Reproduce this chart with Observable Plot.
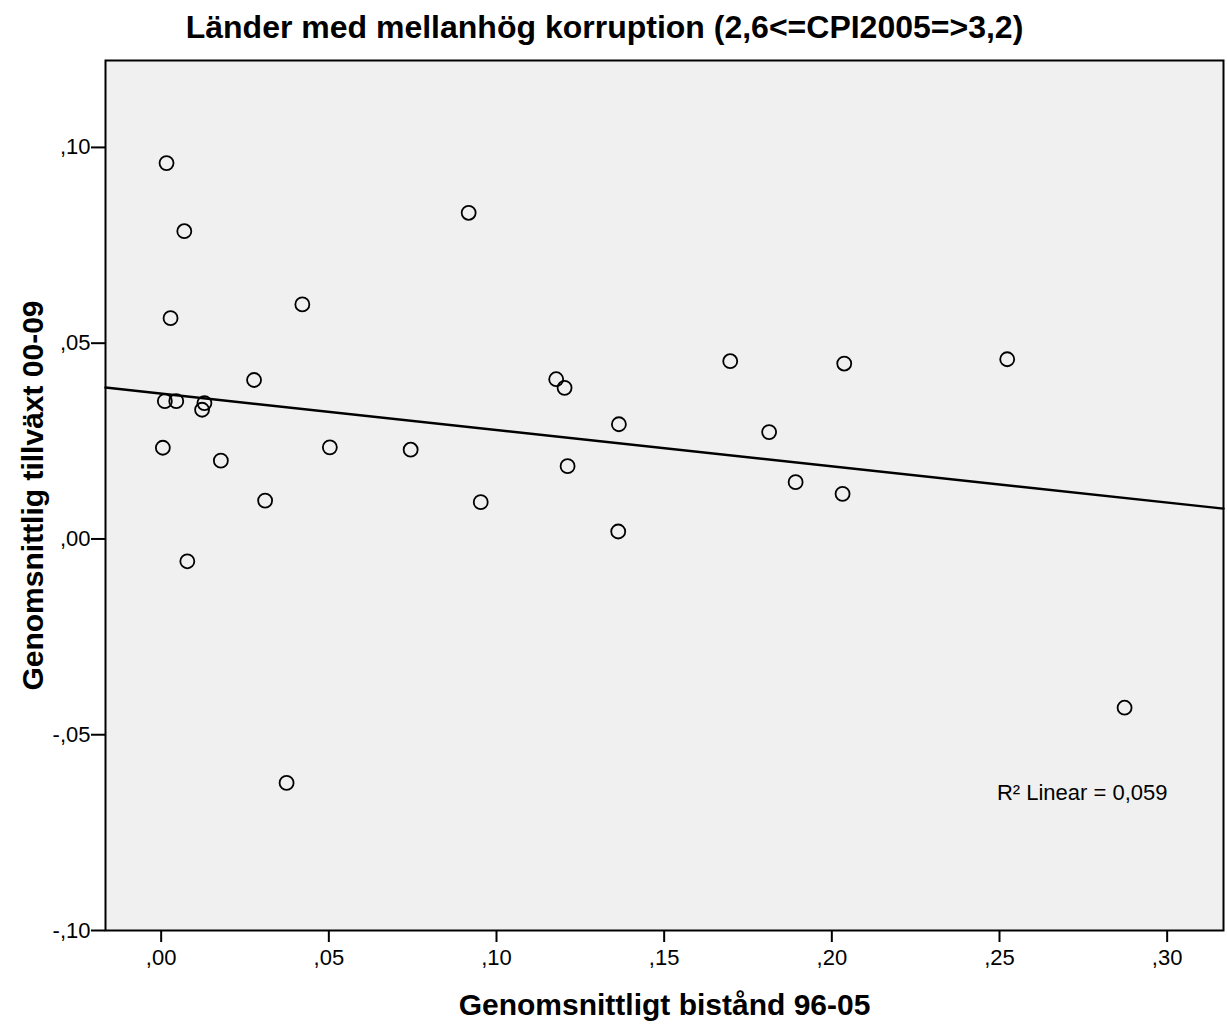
<!DOCTYPE html>
<html>
<head>
<meta charset="utf-8">
<script src="https://cdn.jsdelivr.net/npm/d3@7"></script>
<script src="https://cdn.jsdelivr.net/npm/@observablehq/plot@0.6"></script>
<style>
  html, body { margin: 0; padding: 0; background: white; }
</style>
</head>
<body>
<div id="chart"></div>
<script>
// Genomsnittligt bistånd 96-05 (x) och Genomsnittlig tillväxt 00-09 (y)
const aid = [0.0016, 0.0069, 0.0028, 0.0421, 0.0917, 0.0277, 0.0011, 0.0045, 0.0129, 0.0122,
             0.0005, 0.0178, 0.0310, 0.0078, 0.0374, 0.0503, 0.0744, 0.0953, 0.1178, 0.1203,
             0.1212, 0.1365, 0.1363, 0.1697, 0.1813, 0.1892, 0.2037, 0.2032, 0.2523, 0.2873];
const growth = [0.0960, 0.0786, 0.0564, 0.0599, 0.0833, 0.0406, 0.0352, 0.0352, 0.0347, 0.0330,
                0.0233, 0.0200, 0.0098, -0.0057, -0.0623, 0.0234, 0.0228, 0.0094, 0.0408, 0.0386,
                0.0186, 0.0293, 0.0019, 0.0454, 0.0273, 0.0145, 0.0448, 0.0115, 0.0459, -0.0431];
const xTicks = [0, 0.05, 0.10, 0.15, 0.20, 0.25, 0.30];
const yTicks = [-0.10, -0.05, 0, 0.05, 0.10];
const xDomain = [-0.0166, 0.3168];
const yDomain = [-0.10, 0.1222];
const titleText = "Länder med mellanhög korruption (2,6<=CPI2005=>3,2)";
const xLabel = "Genomsnittligt bistånd 96-05";
const yLabel = "Genomsnittlig tillväxt 00-09";
const r2Label = "R\u00B2 Linear = 0,059";

const data = aid.map((x, i) => ({x, y: growth[i]}));

// least-squares fit
const mx = d3.mean(aid), my = d3.mean(growth);
const sxy = d3.sum(data, d => (d.x - mx) * (d.y - my));
const sxx = d3.sum(data, d => (d.x - mx) ** 2);
const slope = sxy / sxx, intercept = my - slope * mx;
const fitLine = xDomain.map(x => ({x, y: intercept + slope * x}));

const fmt = v => {
  const s = d3.format(".2f")(Math.abs(v) < 1e-9 ? 0 : v).replace("\u2212", "-");
  return s.replace("0.", ".").replace(".", ",");
};

const font = "'Liberation Sans', Arial, Helvetica, sans-serif";

const chart = Plot.plot({
  width: 1227,
  height: 1028,
  marginLeft: 105,
  marginRight: 4,
  marginTop: 60,
  marginBottom: 98,
  style: {fontFamily: font, fontSize: "22px", background: "white", color: "black", overflow: "visible"},
  x: {domain: xDomain},
  y: {domain: yDomain},
  marks: [
    Plot.frame({fill: "#f0f0f0", stroke: null}),
    Plot.axisX({ticks: xTicks, tickFormat: fmt, tickSize: 12, tickPadding: 7, strokeWidth: 2, fontSize: 22, label: null}),
    Plot.axisY({ticks: yTicks, tickFormat: fmt, tickSize: 14, tickPadding: 1, strokeWidth: 2, fontSize: 22, label: null}),
    Plot.line(fitLine, {x: "x", y: "y", stroke: "black", strokeWidth: 2.5}),
    Plot.dot(data, {x: "x", y: "y", r: 7, stroke: "black", strokeWidth: 1.8, fill: "none"}),
    Plot.frame({stroke: "black", strokeWidth: 2}),
    Plot.text([r2Label], {frameAnchor: "bottom-right", text: d => d, dx: -56, dy: -138, textAnchor: "end", lineAnchor: "middle", fontSize: 22}),
    Plot.text([titleText], {frameAnchor: "top", text: d => d, dy: -33, dx: -60, textAnchor: "middle", lineAnchor: "middle", fontSize: 32, fontWeight: "bold"}),
    Plot.text([xLabel], {frameAnchor: "bottom", text: d => d, dy: 75, textAnchor: "middle", lineAnchor: "middle", fontSize: 30, fontWeight: "bold"}),
    Plot.text([yLabel], {frameAnchor: "left", text: d => d, dx: -72, rotate: -90, textAnchor: "middle", lineAnchor: "middle", fontSize: 30, fontWeight: "bold"})
  ]
});
document.getElementById("chart").appendChild(chart);
</script>
</body>
</html>
